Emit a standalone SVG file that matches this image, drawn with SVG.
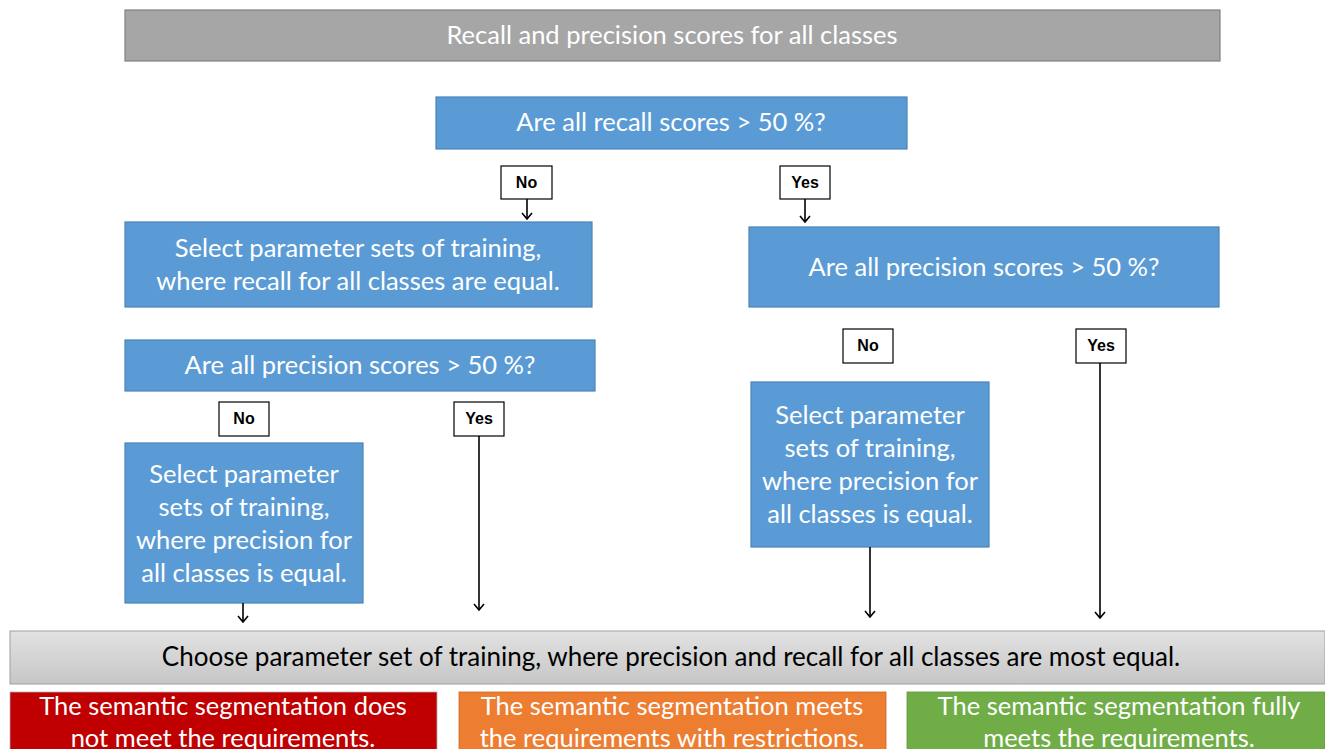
<svg xmlns="http://www.w3.org/2000/svg" width="1325" height="749" viewBox="0 0 1325 749">
  <style>
    .t { font-family: Lato, "Open Sans", "Liberation Sans", sans-serif; font-size: 25.5px; text-anchor: middle; }
    .w { fill: #ffffff; }
    .k { fill: #000000; }
    .blue { fill: #5b9bd5; stroke: #4a84b8; stroke-width: 1.2; }
    .lbl { fill: #ffffff; stroke: #000000; stroke-width: 1.2; }
    .lt { font-family: "Liberation Sans", Arial, sans-serif; font-size: 16px; font-weight: bold; text-anchor: middle; fill: #000; }
    .conn { stroke: #000000; stroke-width: 1.6; fill: none; marker-end: url(#arr); }
  </style>
  <defs>
    <!-- open V arrowhead; +x points along the line -->
    <marker id="arr" markerWidth="12" markerHeight="12" refX="10" refY="6" orient="auto" markerUnits="userSpaceOnUse" viewBox="0 0 12 12">
      <path d="M4,1 L10,6 L4,11" fill="none" stroke="#000" stroke-width="1.6"/>
    </marker>
    <linearGradient id="grey" x1="0" y1="0" x2="0" y2="1">
      <stop offset="0" stop-color="#e2e2e2"/>
      <stop offset="1" stop-color="#c6c6c6"/>
    </linearGradient>
  </defs>
  <rect width="1325" height="749" fill="#ffffff"/>

  <g id="header">
    <rect x="125" y="10" width="1095" height="51" fill="#a6a6a6" stroke="#808080" stroke-width="1.2"/>
    <text class="t w" x="672" y="44">Recall and precision scores for all classes</text>
  </g>

  <g id="q-recall">
    <rect class="blue" x="436" y="97" width="471" height="52"/>
    <text class="t w" x="671" y="131">Are all recall scores &gt; 50 %?</text>
  </g>

  <g id="select-recall">
    <rect class="blue" x="125" y="222" width="467" height="85"/>
    <text class="t w" x="358" y="257">Select parameter sets of training,</text>
    <text class="t w" x="358" y="290">where recall for all classes are equal.</text>
  </g>

  <g id="q-precision-right">
    <rect class="blue" x="749" y="227" width="470" height="80"/>
    <text class="t w" x="984" y="276">Are all precision scores &gt; 50 %?</text>
  </g>

  <g id="q-precision-left">
    <rect class="blue" x="125" y="340" width="470" height="51"/>
    <text class="t w" x="360" y="374">Are all precision scores &gt; 50 %?</text>
  </g>

  <g id="select-precision-left">
    <rect class="blue" x="125" y="443" width="238" height="160"/>
    <text class="t w" x="244" y="483">Select parameter</text>
    <text class="t w" x="244" y="516">sets of training,</text>
    <text class="t w" x="244" y="549">where precision for</text>
    <text class="t w" x="244" y="582">all classes is equal.</text>
  </g>

  <g id="select-precision-right">
    <rect class="blue" x="751" y="382" width="238" height="165"/>
    <text class="t w" x="870" y="424">Select parameter</text>
    <text class="t w" x="870" y="457">sets of training,</text>
    <text class="t w" x="870" y="490">where precision for</text>
    <text class="t w" x="870" y="523">all classes is equal.</text>
  </g>

  <g id="choose">
    <rect x="10" y="631" width="1315" height="53" fill="url(#grey)" stroke="#a0a0a0" stroke-width="1"/>
    <text class="t k" x="671" y="666" style="font-size:26px">Choose parameter set of training, where precision and recall for all classes are most equal.</text>
  </g>

  <g id="result-red">
    <rect x="10" y="692" width="427" height="60" fill="#c00000" stroke="#b0b0b0" stroke-width="0.8"/>
    <text class="t w" x="223" y="715">The semantic segmentation does</text>
    <text class="t w" x="223" y="747">not meet the requirements.</text>
  </g>

  <g id="result-orange">
    <rect x="459" y="692" width="427" height="60" fill="#ed7d31" stroke="#c56a2a" stroke-width="0.8"/>
    <text class="t w" x="672" y="715">The semantic segmentation meets</text>
    <text class="t w" x="672" y="747">the requirements with restrictions.</text>
  </g>

  <g id="result-green">
    <rect x="907" y="692" width="418" height="60" fill="#70ad47" stroke="#5e9a3a" stroke-width="0.8"/>
    <text class="t w" x="1119" y="715">The semantic segmentation fully</text>
    <text class="t w" x="1119" y="747">meets the requirements.</text>
  </g>

  <g id="connectors">
    <line class="conn" x1="527" y1="199" x2="527" y2="219"/>
    <line class="conn" x1="805" y1="199" x2="805" y2="222"/>
    <line class="conn" x1="243" y1="603" x2="243" y2="622"/>
    <line class="conn" x1="479" y1="436" x2="479" y2="610"/>
    <line class="conn" x1="870" y1="547" x2="870" y2="617"/>
    <line class="conn" x1="1100" y1="363" x2="1100" y2="618"/>
  </g>

  <g id="labels">
    <g id="lbl-no-1"><rect class="lbl" x="501" y="166" width="51" height="33"/><text class="lt" x="526.5" y="188">No</text></g>
    <g id="lbl-yes-1"><rect class="lbl" x="780" y="166" width="50" height="33"/><text class="lt" x="805" y="188">Yes</text></g>
    <g id="lbl-no-2"><rect class="lbl" x="219" y="402" width="50" height="34"/><text class="lt" x="244" y="424">No</text></g>
    <g id="lbl-yes-2"><rect class="lbl" x="454" y="402" width="50" height="34"/><text class="lt" x="479" y="424">Yes</text></g>
    <g id="lbl-no-3"><rect class="lbl" x="843" y="329" width="50" height="34"/><text class="lt" x="868" y="351">No</text></g>
    <g id="lbl-yes-3"><rect class="lbl" x="1076" y="329" width="50" height="34"/><text class="lt" x="1101" y="351">Yes</text></g>
  </g>
</svg>
